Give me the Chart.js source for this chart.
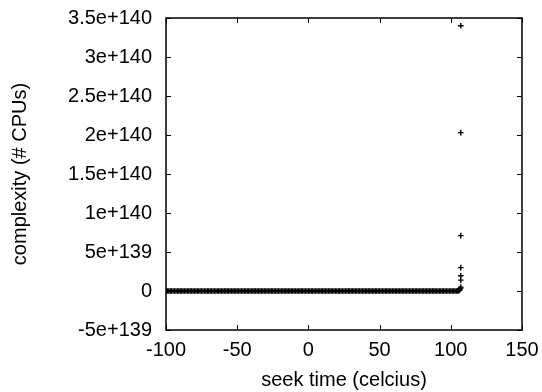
<!DOCTYPE html>
<html>
<head>
<meta charset="utf-8">
<script src="https://cdn.jsdelivr.net/npm/chart.js@4.4.0/dist/chart.umd.min.js"></script>
<style>
    html, body { margin: 0; padding: 0; background: #fff; }
    #wrap { width: 542px; height: 392px; }
</style>
</head>
<body>
<div id="wrap"><canvas id="chart" width="542" height="392"></canvas></div>
<script>
// Puntos sobre la línea base (y ~ 0)
const baseX = [-100, -99, -98, -97, -96, -95, -94, -93, -92, -91, -90, -89, -88, -87, -86, -85,
    -84, -83, -82, -81, -80, -79, -78, -77, -76, -75, -74, -73, -72, -71, -70, -69, -68, -67,
    -66, -65, -64, -63, -62, -61, -60, -59, -58, -57, -56, -55, -54, -53, -52, -51, -50, -49,
    -48, -47, -46, -45, -44, -43, -42, -41, -40, -39, -38, -37, -36, -35, -34, -33, -32, -31,
    -30, -29, -28, -27, -26, -25, -24, -23, -22, -21, -20, -19, -18, -17, -16, -15, -14, -13,
    -12, -11, -10, -9, -8, -7, -6, -5, -4, -3, -2, -1, 0, 1, 2, 3, 4, 5, 6, 7, 8, 9, 10, 11,
    12, 13, 14, 15, 16, 17, 18, 19, 20, 21, 22, 23, 24, 25, 26, 27, 28, 29, 30, 31, 32, 33,
    34, 35, 36, 37, 38, 39, 40, 41, 42, 43, 44, 45, 46, 47, 48, 49, 50, 51, 52, 53, 54, 55,
    56, 57, 58, 59, 60, 61, 62, 63, 64, 65, 66, 67, 68, 69, 70, 71, 72, 73, 74, 75, 76, 77,
    78, 79, 80, 81, 82, 83, 84, 85, 86, 87, 88, 89, 90, 91, 92, 93, 94, 95, 96, 97, 98, 99,
    100, 101, 102, 103, 104];
// Subida final y el pico
const tailX = [104.8, 105.5, 106, 106.4, 106.8, 107, 107, 107, 107, 107, 107, 107];
const tailY = [1e137, 4e137, 1e138, 2e138, 3.5e138, 5e138, 1.4e139, 1.96e139, 3.0e139, 7.1e139, 2.03e140, 3.4e140];

const xTicks = [-100, -50, 0, 50, 100, 150];
const yTicks = [-5e139, 0, 5e139, 1e140, 1.5e140, 2e140, 2.5e140, 3e140, 3.5e140];
const yTickLabels = ['-5e+139', '0', '5e+139', '1e+140', '1.5e+140', '2e+140', '2.5e+140', '3e+140', '3.5e+140'];

const points = baseX.map(x => ({ x: x, y: 0 }))
    .concat(tailX.map((x, i) => ({ x: x, y: tailY[i] })));

const FONT = 'Liberation Sans, Arial, Helvetica, sans-serif';

// Marco y ticks hacia dentro (estilo gnuplot)
const framePlugin = {
    id: 'frame',
    afterDraw(chart) {
        const { ctx, chartArea: a, scales } = chart;
        const t = 5;
        ctx.save();
        ctx.strokeStyle = '#000';
        ctx.lineWidth = 1;
        ctx.beginPath();
        xTicks.forEach(v => {
            const px = Math.round(scales.x.getPixelForValue(v)) + 0.5;
            ctx.moveTo(px, a.bottom); ctx.lineTo(px, a.bottom - t);
            ctx.moveTo(px, a.top); ctx.lineTo(px, a.top + t);
        });
        yTicks.forEach(v => {
            const py = Math.round(scales.y.getPixelForValue(v)) + 0.5;
            ctx.moveTo(a.left, py); ctx.lineTo(a.left + t, py);
            ctx.moveTo(a.right, py); ctx.lineTo(a.right - t, py);
        });
        ctx.stroke();
        ctx.lineWidth = 1.5;
        ctx.strokeRect(a.left, a.top, a.right - a.left, a.bottom - a.top);
        ctx.restore();
    }
};

new Chart(document.getElementById('chart').getContext('2d'), {
    type: 'scatter',
    data: {
        datasets: [{
            data: points,
            pointStyle: 'cross',
            pointRadius: 2.8,
            pointBorderWidth: 1.4,
            borderColor: '#000',
            backgroundColor: '#000'
        }]
    },
    options: {
        responsive: false,
        animation: false,
        layout: { padding: { top: 18, right: 20, bottom: 0, left: 0 } },
        plugins: { legend: { display: false }, tooltip: { enabled: false } },
        scales: {
            x: {
                type: 'linear',
                min: -100,
                max: 150,
                afterBuildTicks: s => { s.ticks = xTicks.map(v => ({ value: v })); },
                afterFit: s => { s.height = 62; s.paddingLeft = 0; s.paddingRight = 0; },
                grid: { display: false, drawTicks: false },
                border: { display: false },
                ticks: { color: '#000', font: { family: FONT, size: 20 }, padding: 8, maxRotation: 0 },
                title: { display: true, text: 'seek time (celcius)', color: '#000', font: { family: FONT, size: 20 }, padding: { top: 4, bottom: 0 } }
            },
            y: {
                type: 'linear',
                min: -5e139,
                max: 3.5e140,
                afterBuildTicks: s => { s.ticks = yTicks.map(v => ({ value: v })); },
                afterFit: s => { s.width = 166; s.paddingTop = 0; s.paddingBottom = 0; },
                grid: { display: false, drawTicks: false },
                border: { display: false },
                ticks: {
                    color: '#000',
                    font: { family: FONT, size: 20 },
                    padding: 14,
                    callback: (v, i) => yTickLabels[i]
                },
                title: { display: true, text: 'complexity (# CPUs)', color: '#000', font: { family: FONT, size: 20 }, padding: { top: 8, bottom: 0 } }
            }
        }
    },
    plugins: [framePlugin]
});
</script>
</body>
</html>
